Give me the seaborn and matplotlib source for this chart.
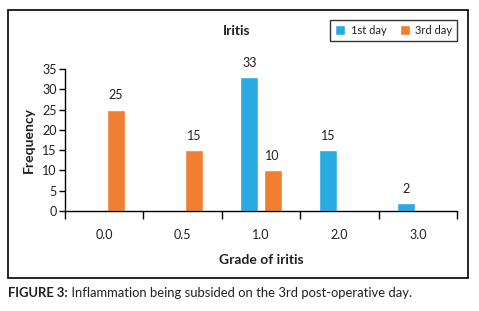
import pandas as pd
import numpy as np
import matplotlib
matplotlib.use("Agg")
import matplotlib.pyplot as plt
import seaborn as sns
from matplotlib.patches import Rectangle, Patch

# dados
grades = ["0.0", "0.5", "1.0", "2.0", "3.0"]
dia1 = [0, 0, 33, 15, 2]
dia3 = [25, 15, 10, 0, 0]
series = ["1st day", "3rd day"]
cores = ["#29ABE2", "#F07F31"]

df = pd.DataFrame({
    "Grade": grades * 2,
    "Frequency": dia1 + dia3,
    "Dia": [series[0]] * len(grades) + [series[1]] * len(grades),
})

sns.set_style("white")
plt.rcParams["font.family"] = ["Lato", "DejaVu Sans"]
texto = "#231F20"

fig = plt.figure(figsize=(4.79, 3.11), dpi=100)
ax = fig.add_axes([65 / 479, 1 - 211 / 311, (457 - 65) / 479, (211 - 69) / 311])

sns.barplot(data=df, x="Grade", y="Frequency", hue="Dia", hue_order=series,
            palette=cores, width=0.59, gap=0.22, order=grades,
            legend=False, ax=ax, saturation=1)

for cont in ax.containers:
    labels = [f"{int(b.get_height())}" if b.get_height() > 0 else "" for b in cont]
    ax.bar_label(cont, labels=labels, padding=6, fontsize=9, color=texto)

ax.set_ylim(0, 35)
ax.set_xlim(-0.5, 4.5)
ax.set_yticks(np.arange(0, 36, 5))
ax.set_xticks(np.arange(-0.5, 5, 1))
ax.set_xticklabels([])
ax.set_xticks(range(len(grades)), minor=True)
ax.set_xticklabels(grades, minor=True)
ax.tick_params(axis="x", which="major", direction="out", length=6, width=1, color="black", bottom=True)
ax.tick_params(axis="x", which="minor", length=0, pad=13, labelsize=9, labelcolor=texto)
ax.tick_params(axis="y", direction="out", length=4, width=1, color="black", left=True,
               labelsize=9, labelcolor=texto, pad=2)

sns.despine(ax=ax)
for s in ["left", "bottom"]:
    ax.spines[s].set_color("black")
    ax.spines[s].set_linewidth(1)

ax.set_xlabel("Grade of iritis", fontsize=10, fontweight="bold", color=texto, labelpad=9)
ax.set_ylabel("Frequency", fontsize=10, fontweight="bold", color=texto, labelpad=5)
fig.text(237 / 479, 1 - 31 / 311, "Iritis", fontsize=10, fontweight="bold",
         color=texto, ha="center", va="center")

handles = [Patch(facecolor=c, label=s) for c, s in zip(cores, series)]
leg = fig.legend(handles=handles, ncol=2, loc="upper right",
                 bbox_to_anchor=(463 / 479, 1 - 14 / 311), fontsize=8,
                 frameon=True, fancybox=False, handlelength=0.9, handleheight=1.0,
                 handletextpad=0.5, columnspacing=1.2, borderpad=0.45)
leg.get_frame().set_edgecolor("black")
leg.get_frame().set_linewidth(1)
for t in leg.get_texts():
    t.set_color(texto)

# moldura externa
fig.patches.append(Rectangle((8 / 479, 1 - 278 / 311), 460 / 479, 268 / 311,
                             transform=fig.transFigure, fill=False,
                             edgecolor="black", linewidth=1.2))

# legenda da figura
t1 = fig.text(8 / 479, 1 - 293 / 311, "FIGURE 3:", fontsize=9.4, fontweight="bold",
              color=texto, ha="left", va="center")
fig.canvas.draw()
bb = t1.get_window_extent()
x2 = fig.transFigure.inverted().transform((bb.x1, bb.y0))[0]
fig.text(x2, 1 - 293 / 311, " Inflammation being subsided on the 3rd post-operative day.",
         fontsize=9.4, color=texto, ha="left", va="center")

plt.savefig("out.png", dpi=100)
